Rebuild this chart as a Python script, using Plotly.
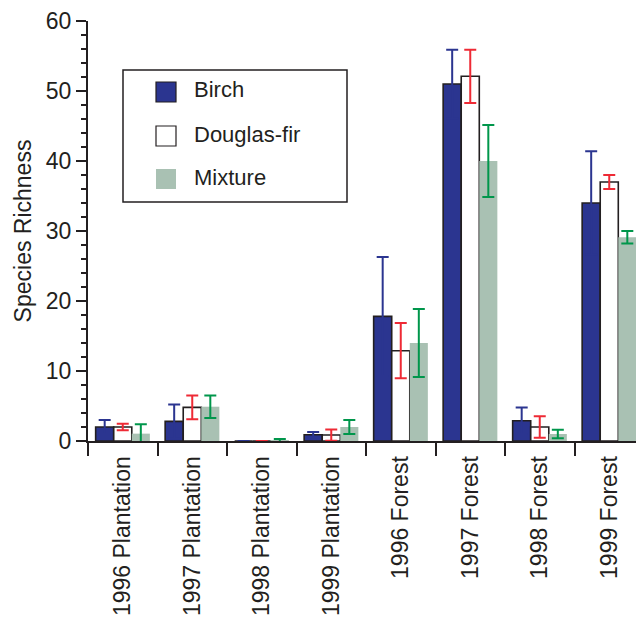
import plotly.graph_objects as go

categories = ["1996 Plantation", "1997 Plantation", "1998 Plantation", "1999 Plantation",
              "1996 Forest", "1997 Forest", "1998 Forest", "1999 Forest"]
series_names = ["Birch", "Douglas-fir", "Mixture"]
birch = [2.0, 2.8, 0.0, 0.9, 17.8, 51.0, 2.9, 34.0]
birch_err = [1.0, 2.4, 0.0, 0.4, 8.5, 4.9, 1.9, 7.4]
douglas = [2.0, 4.8, 0.0, 0.85, 12.9, 52.1, 2.0, 37.0]
douglas_err = [0.45, 1.7, 0.0, 0.8, 3.95, 3.8, 1.55, 1.0]
mixture = [1.05, 4.9, 0.05, 2.0, 14.0, 40.0, 1.0, 29.1]
mixture_err = [1.35, 1.6, 0.25, 1.0, 4.85, 5.15, 0.6, 0.9]

INK = "#231f20"
FONT = "Liberation Sans, Arial, sans-serif"
fills = ["#2b3590", "#ffffff", "#a9c1b3"]
outlines = [INK, INK, "rgba(0,0,0,0)"]
outline_w = [1.6, 1.6, 0]
err_colors = ["#2b3590", "#ee2a35", "#00964b"]

values = [birch, douglas, mixture]
errors = [birch_err, douglas_err, mixture_err]

fig = go.Figure()
for name, v, e, fc, lc, lw, ec in zip(series_names, values, errors, fills, outlines, outline_w, err_colors):
    fig.add_trace(go.Bar(
        name=name, x=categories, y=v,
        marker=dict(color=fc, line=dict(color=lc, width=lw)),
        error_y=dict(type="data", array=e, visible=True, color=ec, thickness=2, width=6),
        showlegend=False,
    ))

# page has an 8px body margin; size the figure so it fills the 644x617 window
OFF = 8
W, H = 644 - OFF, 617 - OFF
L, R, T, B = 80, 0, 13, 176


def px_x(px):
    return (px - OFF - L) / (W - L - R)


def px_y(py):
    return (H - B - (py - OFF)) / (H - T - B)


# Legend box drawn in paper coordinates
shapes = [dict(type="rect", xref="paper", yref="paper",
               x0=px_x(123), x1=px_x(347), y0=px_y(70), y1=px_y(202),
               line=dict(color=INK, width=1.5), fillcolor="white", layer="above")]
annotations = []
row_centers = [92, 136, 179]
for name, fc, lc, lw, cy in zip(series_names, fills, outlines, outline_w, row_centers):
    shapes.append(dict(type="rect", xref="paper", yref="paper",
                       x0=px_x(156), x1=px_x(176), y0=px_y(cy - 10), y1=px_y(cy + 10),
                       fillcolor=fc, line=dict(color=lc, width=1.2 if lw else 0), layer="above"))
    annotations.append(dict(xref="paper", yref="paper", x=px_x(192), y=px_y(cy - 2),
                            text=name, showarrow=False, xanchor="left", yanchor="middle",
                            font=dict(family=FONT, size=22, color=INK)))

fig.update_layout(
    width=W, height=H,
    margin=dict(l=L, r=R, t=T, b=B, pad=0),
    paper_bgcolor="white", plot_bgcolor="white",
    barmode="group", bargap=0.22, bargroupgap=0,
    font=dict(family=FONT, color=INK),
    shapes=shapes, annotations=annotations,
    showlegend=False,
)
fig.update_xaxes(
    range=[-0.5, 7.5], showgrid=False, zeroline=False,
    showline=True, linecolor=INK, linewidth=2,
    ticks="outside", tickson="boundaries", ticklen=13, tickwidth=2, tickcolor=INK,
    tickangle=-90, ticklabelstandoff=4,
    tickfont=dict(family=FONT, size=23, color=INK),
)
fig.update_yaxes(
    range=[0, 60], showgrid=False, zeroline=False,
    showline=True, linecolor=INK, linewidth=2,
    ticks="outside", ticklen=10, tickwidth=2, tickcolor=INK,
    tick0=0, dtick=10,
    minor=dict(ticks="outside", ticklen=5, tickwidth=2, tickcolor=INK, dtick=2, showgrid=False),
    tickfont=dict(family=FONT, size=23, color=INK),
    title=dict(text="Species Richness", font=dict(family=FONT, size=23, color=INK), standoff=8),
)

fig.write_html("out.html")
